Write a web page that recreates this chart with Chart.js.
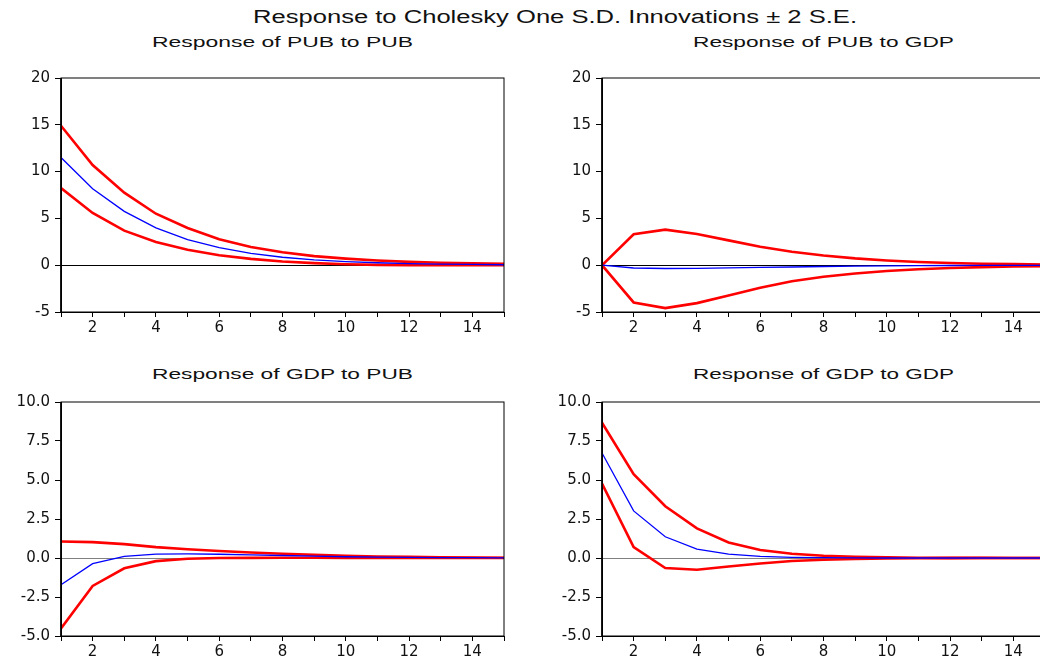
<!DOCTYPE html>
<html>
<head>
<meta charset="utf-8">
<script src="https://cdn.jsdelivr.net/npm/chart.js@4.4.1/dist/chart.umd.min.js"></script>
<style>
  html, body { margin: 0; padding: 0; background: #fff; }
  body { width: 1040px; height: 656px; position: relative; overflow: hidden; }
  canvas { position: absolute; }
  .ttl { position: absolute; white-space: nowrap; font-family: "Liberation Sans", Arial, sans-serif;
         line-height: 1; color: #111; transform-origin: 0 0; }
</style>
</head>
<body>
<div class="ttl" id="mainTitle" style="font-size:18px">Response to Cholesky One S.D. Innovations ± 2 S.E.</div>
<div class="ttl" id="t1" style="font-size:15px">Response of PUB to PUB</div>
<div class="ttl" id="t2" style="font-size:15px">Response of PUB to GDP</div>
<div class="ttl" id="t3" style="font-size:15px">Response of GDP to PUB</div>
<div class="ttl" id="t4" style="font-size:15px">Response of GDP to GDP</div>

<canvas id="c1" width="510" height="276" style="left:0px;top:64px"></canvas>
<canvas id="c2" width="510" height="276" style="left:541px;top:64px"></canvas>
<canvas id="c3" width="510" height="276" style="left:0px;top:388px"></canvas>
<canvas id="c4" width="510" height="276" style="left:541px;top:388px"></canvas>

<script>
// periods after the shock
const periods = [1, 2, 3, 4, 5, 6, 7, 8, 9, 10, 11, 12, 13, 14, 15];

// Response of PUB to PUB
const pubPubUp  = [14.9, 10.7, 7.75, 5.5, 3.98, 2.77, 1.95, 1.38, 0.97, 0.7, 0.5, 0.36, 0.26, 0.19, 0.14];
const pubPubMid = [11.5, 8.17, 5.75, 3.98, 2.74, 1.88, 1.27, 0.85, 0.57, 0.38, 0.26, 0.17, 0.12, 0.08, 0.05];
const pubPubLo  = [8.25, 5.58, 3.69, 2.49, 1.64, 1.07, 0.68, 0.39, 0.22, 0.1, 0.04, 0.01, 0.0, -0.01, -0.01];

// Response of PUB to GDP
const pubGdpUp  = [0, 3.3, 3.8, 3.34, 2.65, 1.97, 1.43, 1.03, 0.73, 0.51, 0.35, 0.24, 0.16, 0.11, 0.07];
const pubGdpMid = [0, -0.3, -0.35, -0.33, -0.29, -0.24, -0.19, -0.14, -0.1, -0.07, -0.05, -0.03, -0.02, -0.01, -0.01];
const pubGdpLo  = [0, -3.98, -4.58, -4.05, -3.23, -2.41, -1.71, -1.24, -0.88, -0.62, -0.44, -0.3, -0.21, -0.14, -0.1];

// Response of GDP to PUB
const gdpPubUp  = [1.06, 1.02, 0.89, 0.7, 0.56, 0.45, 0.35, 0.27, 0.2, 0.14, 0.1, 0.07, 0.05, 0.03, 0.02];
const gdpPubMid = [-1.71, -0.36, 0.1, 0.25, 0.26, 0.24, 0.2, 0.16, 0.12, 0.08, 0.06, 0.04, 0.03, 0.02, 0.01];
const gdpPubLo  = [-4.52, -1.79, -0.66, -0.2, -0.05, 0.0, 0.01, 0.02, 0.02, 0.01, 0.01, 0.0, 0.0, 0.0, 0.0];

// Response of GDP to GDP
const gdpGdpUp  = [8.67, 5.37, 3.32, 1.9, 1.0, 0.51, 0.27, 0.14, 0.08, 0.04, 0.02, 0.01, 0.01, 0.0, 0.0];
const gdpGdpMid = [6.73, 3.02, 1.36, 0.57, 0.25, 0.1, 0.04, 0.02, 0.01, 0.0, 0.0, 0.0, 0.0, 0.0, 0.0];
const gdpGdpLo  = [4.77, 0.7, -0.64, -0.75, -0.54, -0.35, -0.19, -0.11, -0.06, -0.03, -0.02, -0.01, 0.0, 0.0, 0.0];

// y axis ranges
const topTicks = { min: -5, max: 20, step: 5, digits: 0 };
const bottomTicks = { min: -5, max: 10, step: 2.5, digits: 1 };

// fit an html title to a width, centred on cx, baseline at by
function placeTitle(id, cx, width, by) {
  const el = document.getElementById(id);
  const fs = parseFloat(el.style.fontSize);
  const natural = el.getBoundingClientRect().width;
  el.style.left = (cx - width / 2) + 'px';
  el.style.top = (by - fs * 0.8465) + 'px';
  el.style.transform = 'scaleX(' + (width / natural) + ')';
}
placeTitle('mainTitle', 555, 604, 23);
placeTitle('t1', 282.5, 261, 46.5);
placeTitle('t2', 823.5, 261, 46.5);
placeTitle('t3', 282.5, 261, 378.5);
placeTitle('t4', 823.5, 261, 378.5);

// box round the plot area
const framePlugin = {
  id: 'frame',
  afterDraw(chart) {
    const a = chart.chartArea, ctx = chart.ctx;
    ctx.save();
    ctx.strokeStyle = '#000';
    ctx.lineWidth = 1;
    ctx.strokeRect(a.left, a.top, a.right - a.left, a.bottom - a.top);
    ctx.lineWidth = 1.6;
    ctx.beginPath();
    ctx.moveTo(a.left, a.top);
    ctx.lineTo(a.left, a.bottom);
    ctx.stroke();
    ctx.restore();
  }
};

function pts(vals) {
  return periods.map((p, i) => ({ x: p, y: vals[i] }));
}

function makePanel(canvasId, up, mid, lo, yr, zeroColor) {
  const tickFont = { family: '"DejaVu Sans", sans-serif', size: 15 };
  new Chart(document.getElementById(canvasId).getContext('2d'), {
    type: 'line',
    data: {
      datasets: [
        { data: pts(mid), borderColor: '#0000ff', borderWidth: 1.3 },
        { data: pts(up), borderColor: '#ff0000', borderWidth: 2.6 },
        { data: pts(lo), borderColor: '#ff0000', borderWidth: 2.6 }
      ]
    },
    options: {
      responsive: false,
      animation: false,
      layout: { padding: { top: 4, right: 6, left: 0, bottom: 0 } },
      elements: { point: { radius: 0 }, line: { tension: 0 } },
      plugins: { legend: { display: false }, tooltip: { enabled: false } },
      scales: {
        x: {
          type: 'linear',
          min: 1, max: 15,
          border: { color: '#000', width: 1 },
          grid: { drawOnChartArea: false, tickLength: 5, tickColor: '#000' },
          ticks: {
            stepSize: 1, autoSkip: false, maxRotation: 0, padding: 2,
            color: '#111', font: tickFont,
            callback: v => (v % 2 === 0 ? String(v) : '')
          },
          afterFit: s => { s.height = 28; }
        },
        y: {
          min: yr.min, max: yr.max,
          border: { color: '#000', width: 1 },
          grid: {
            drawOnChartArea: true,
            tickLength: 6,
            tickColor: '#000',
            color: c => (c.tick && c.tick.value === 0 ? zeroColor : 'rgba(0,0,0,0)')
          },
          ticks: {
            stepSize: yr.step, padding: 5, color: '#111', font: tickFont,
            callback: v => v.toFixed(yr.digits)
          },
          afterFit: s => { s.width = 61; }
        }
      }
    },
    plugins: [framePlugin]
  });
}

makePanel('c1', pubPubUp, pubPubMid, pubPubLo, topTicks, '#000');
makePanel('c2', pubGdpUp, pubGdpMid, pubGdpLo, topTicks, '#000');
makePanel('c3', gdpPubUp, gdpPubMid, gdpPubLo, bottomTicks, '#808080');
makePanel('c4', gdpGdpUp, gdpGdpMid, gdpGdpLo, bottomTicks, '#808080');
</script>
</body>
</html>
